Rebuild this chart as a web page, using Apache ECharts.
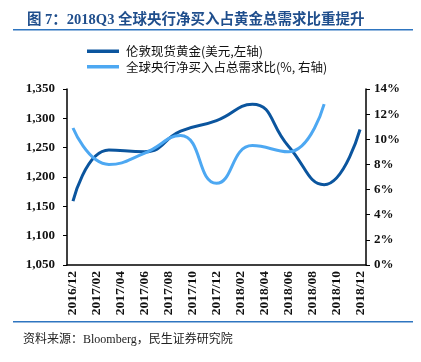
<!DOCTYPE html>
<html><head><meta charset="utf-8">
<script src="https://cdn.jsdelivr.net/npm/echarts@6/dist/echarts.min.js"></script>
<style>html,body{margin:0;padding:0;background:#fff}#c{width:421px;height:362px}</style>
</head><body><div id="c"></div>
<script>
const months = ['2016/12','2017/01','2017/02','2017/03','2017/04','2017/05','2017/06','2017/07','2017/08','2017/09','2017/10','2017/11','2017/12','2018/01','2018/02','2018/03','2018/04','2018/05','2018/06','2018/07','2018/08','2018/09','2018/10','2018/11','2018/12'];
const goldDates = ['2016/12','2017/03','2017/06','2017/09','2017/12','2018/03','2018/06','2018/09','2018/12'];
const goldPrice = [1159, 1246, 1243, 1278, 1296, 1324, 1253, 1187, 1281];
const cbDates = ['2016/12','2017/03','2017/06','2017/09','2017/12','2018/03','2018/06','2018/09'];
const cbShare = [10.9, 8.0, 8.9, 10.3, 6.5, 9.5, 9.0, 12.8];
const leftTicks = {min:1050, max:1350, interval:50};
const rightTicks = {min:0, max:14, interval:2};

const serif = '"Liberation Serif","Times New Roman",serif';
const cjk = '"Noto Sans CJK SC",sans-serif';
const chart = echarts.init(document.getElementById('c'));
chart.setOption({
  animation:false,
  title:{text:'图 7：2018Q3 全球央行净买入占黄金总需求比重提升', left:22, top:8,
    textStyle:{fontFamily:'"Liberation Serif","Noto Sans CJK SC",serif', fontWeight:'bold', fontSize:14.5, color:'#1F4E8C'}},
  graphic:[
    {type:'rect', shape:{x:13,y:29,width:400,height:1.5}, style:{fill:'#2E75C0'}},
    {type:'rect', shape:{x:13,y:321,width:400,height:1.5}, style:{fill:'#2E75C0'}},
    {type:'text', left:23, top:334, style:{text:'资料来源：Bloomberg，民生证券研究院', font:'12px "Liberation Serif","Noto Sans CJK SC",serif', fill:'#222'}}
  ],
  legend:{orient:'vertical', left:82, top:40, icon:'rect', itemWidth:32, itemHeight:3.5, itemGap:3,
    textStyle:{fontFamily:cjk, fontSize:12.5, color:'#111', padding:[0,0,0,2]},
    data:['伦敦现货黄金(美元,左轴)','全球央行净买入占总需求比(%, 右轴)']},
  grid:{left:67, right:55, top:89, bottom:97},
  xAxis:{type:'category', data:months, boundaryGap:true,
    axisLine:{lineStyle:{color:'#000', width:1.5}},
    axisTick:{interval:1, length:4, lineStyle:{color:'#000'}},
    axisLabel:{interval:1, rotate:90, fontFamily:serif, fontWeight:'bold', fontSize:13.5, color:'#111', margin:6}},
  yAxis:[
    {type:'value', min:leftTicks.min, max:leftTicks.max, interval:leftTicks.interval, splitLine:{show:false},
     axisLine:{show:true, lineStyle:{color:'#000', width:1.5}}, axisTick:{show:true, length:4, lineStyle:{color:'#000'}},
     axisLabel:{fontFamily:serif, fontWeight:'bold', fontSize:13, color:'#111', margin:12,
       formatter:v=>v.toLocaleString('en-US')}},
    {type:'value', min:rightTicks.min, max:rightTicks.max, interval:rightTicks.interval, splitLine:{show:false},
     axisLine:{show:true, lineStyle:{color:'#000', width:1.5}}, axisTick:{show:true, length:4, lineStyle:{color:'#000'}},
     axisLabel:{fontFamily:serif, fontWeight:'bold', fontSize:13, color:'#111', margin:8, formatter:'{value}%'}}
  ],
  series:[
    {name:'伦敦现货黄金(美元,左轴)', type:'line', yAxisIndex:0, smooth:0.5, symbol:'none',
     lineStyle:{width:3, color:'#0B559E'}, itemStyle:{color:'#0B559E'},
     data:goldDates.map((d,i)=>[d, goldPrice[i]])},
    {name:'全球央行净买入占总需求比(%, 右轴)', type:'line', yAxisIndex:1, smooth:0.5, symbol:'none',
     lineStyle:{width:3, color:'#4DA8F2'}, itemStyle:{color:'#4DA8F2'},
     data:cbDates.map((d,i)=>[d, cbShare[i]])}
  ]
});
</script></body></html>
